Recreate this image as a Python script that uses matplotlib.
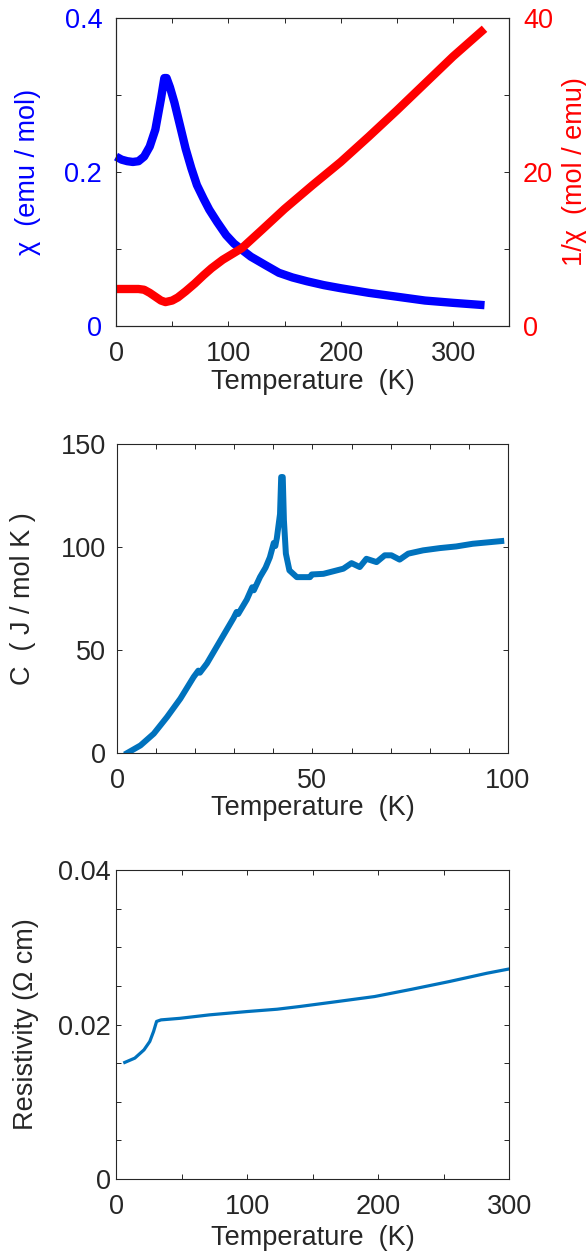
import matplotlib.pyplot as plt
import matplotlib as mpl
from matplotlib.ticker import MultipleLocator

# ---- data ----
# susceptibility chi (emu/mol) vs T
chi_T = [0, 5, 10, 15, 20, 25, 30, 35, 40, 43, 45, 48, 52, 57, 62, 67, 72, 78, 83,
         90, 98, 105, 112, 120, 133, 145, 157, 170, 185, 200, 225, 250, 275, 300, 328]
chi = [0.220, 0.216, 0.214, 0.213, 0.214, 0.220, 0.233, 0.255, 0.295, 0.322, 0.322,
       0.310, 0.290, 0.260, 0.230, 0.205, 0.183, 0.165, 0.151, 0.135, 0.118, 0.107,
       0.099, 0.090, 0.079, 0.069, 0.063, 0.058, 0.053, 0.049, 0.043, 0.038, 0.033,
       0.030, 0.027]

# inverse susceptibility (mol/emu) vs T
inv_T = [0, 10, 20, 25, 30, 35, 40, 44, 50, 55, 62, 70, 78, 85, 95, 112, 130, 150,
         175, 200, 225, 250, 275, 300, 328]
inv_chi = [4.8, 4.8, 4.8, 4.7, 4.3, 3.8, 3.3, 3.1, 3.3, 3.7, 4.5, 5.5, 6.6, 7.5, 8.6,
           10.1, 12.5, 15.2, 18.3, 21.3, 24.6, 28.0, 31.5, 35.0, 38.6]

# heat capacity C (J/mol K) vs T
c_T = [2.6, 6.0, 9.4, 12.8, 16.2, 19.6, 20.8, 21.2, 23.0, 26.4, 29.8, 30.6, 31.0,
       33.2, 34.6, 35.0, 36.6, 38.0, 39.1, 40.1, 40.5, 40.9, 41.7, 42.0, 42.4, 42.7,
       43.2, 44.1, 46.0, 49.4, 49.8, 52.8, 57.9, 60.0, 62.1, 63.8, 66.4, 68.5, 70.2,
       72.3, 74.5, 78.3, 82.6, 86.8, 91.0, 98.3]
c_val = [0.0, 3.7, 9.4, 17.5, 26.4, 36.9, 40.0, 39.0, 43.5, 54.5, 65.5, 68.5, 67.5,
         74.5, 80.5, 79.0, 85.5, 90.0, 95.0, 102.0, 100.5, 104.5, 116.0, 134.0,
         134.0, 113.0, 96.8, 88.7, 85.4, 85.4, 86.7, 87.0, 89.5, 92.2, 90.3, 94.3,
         92.7, 96.0, 96.0, 93.9, 96.8, 98.4, 99.5, 100.3, 101.6, 102.9]

# resistivity (Ohm cm) vs T
rho_T = [6.3, 14, 21, 25.4, 28.3, 30.6, 34, 48.3, 71, 99.8, 122.6, 139.8, 168.4, 197,
         225.6, 254, 282.8, 300]
rho = [0.01509, 0.01565, 0.01672, 0.0178, 0.0191, 0.0204, 0.0206, 0.0208, 0.02125,
       0.02168, 0.02198, 0.02233, 0.02297, 0.02362, 0.02457, 0.02556, 0.02664, 0.0272]

# ---- style ----
mpl.rcParams['font.family'] = ['Liberation Sans', 'DejaVu Sans']
mpl.rcParams['font.size'] = 19.5
mpl.rcParams['axes.linewidth'] = 0.8

dark = '#262626'
mblue = '#0072BD'

fig = plt.figure(figsize=(5.86, 12.58), dpi=100)


def style_axes(ax, xpad, ypad):
    for s in ax.spines.values():
        s.set_color(dark)
    ax.tick_params(which='both', direction='in', length=3.5, width=0.7,
                   color=dark, labelcolor=dark)
    ax.tick_params(axis='x', pad=xpad)
    ax.tick_params(axis='y', pad=ypad)


# panel 1: chi and 1/chi
ax1 = fig.add_axes([0.198, 0.7409, 0.671, 0.2448])
ax1.plot(chi_T, chi, color='#0000FF', lw=6, clip_on=False, solid_capstyle='butt')
ax1.set_xlim(0, 350)
ax1.set_ylim(0, 0.4)
ax1.set_xticks([0, 100, 200, 300])
ax1.xaxis.set_minor_locator(MultipleLocator(50))
ax1.set_yticks([0, 0.2, 0.4])
ax1.set_yticklabels(['0', '0.2', '0.4'])
ax1.yaxis.set_minor_locator(MultipleLocator(0.1))
style_axes(ax1, 10.5, 10)
ax1.tick_params(axis='y', labelcolor='#0000FF')
ax1.tick_params(top=True, which='both')
ax1.set_xlabel('Temperature  (K)', color=dark, labelpad=2)
ax1.set_ylabel('χ  (emu / mol)', color='#0000FF', labelpad=17)

ax1b = ax1.twinx()
ax1b.plot(inv_T, inv_chi, color='#FF0000', lw=6, clip_on=False, solid_capstyle='butt')
ax1b.set_ylim(0, 40)
ax1b.set_yticks([0, 20, 40])
ax1b.yaxis.set_minor_locator(MultipleLocator(10))
style_axes(ax1b, 10.5, 10)
ax1b.tick_params(axis='y', labelcolor='#FF0000')
ax1b.set_ylabel('1/χ  (mol / emu)', color='#FF0000', labelpad=6)

# panel 2: heat capacity
ax2 = fig.add_axes([0.1997, 0.4014, 0.667, 0.2456])
ax2.plot(c_T, c_val, color=mblue, lw=4.3)
ax2.set_xlim(0, 100)
ax2.set_ylim(0, 150)
ax2.set_xticks([0, 50, 100])
ax2.xaxis.set_minor_locator(MultipleLocator(10))
ax2.set_yticks([0, 50, 100, 150])
style_axes(ax2, 10.5, 8)
ax2.tick_params(which='both', top=True, right=True)
ax2.set_xlabel('Temperature  (K)', color=dark, labelpad=1.2)
ax2.set_ylabel('C  ( J / mol K )', color=dark, labelpad=18)

# panel 3: resistivity
ax3 = fig.add_axes([0.1988, 0.0628, 0.6706, 0.2456])
ax3.plot(rho_T, rho, color=mblue, lw=2.3)
ax3.set_xlim(0, 300)
ax3.set_ylim(0, 0.04)
ax3.set_xticks([0, 100, 200, 300])
ax3.xaxis.set_minor_locator(MultipleLocator(50))
ax3.set_yticks([0, 0.02, 0.04])
ax3.set_yticklabels(['0', '0.02', '0.04'])
ax3.yaxis.set_minor_locator(MultipleLocator(0.005))
style_axes(ax3, 10.5, 4)
ax3.tick_params(which='both', top=True, right=True)
ax3.set_xlabel('Temperature  (K)', color=dark, labelpad=3.8)
ax3.set_ylabel('Resistivity (Ω cm)', color=dark, labelpad=14)

fig.savefig('out.png', dpi=100)
